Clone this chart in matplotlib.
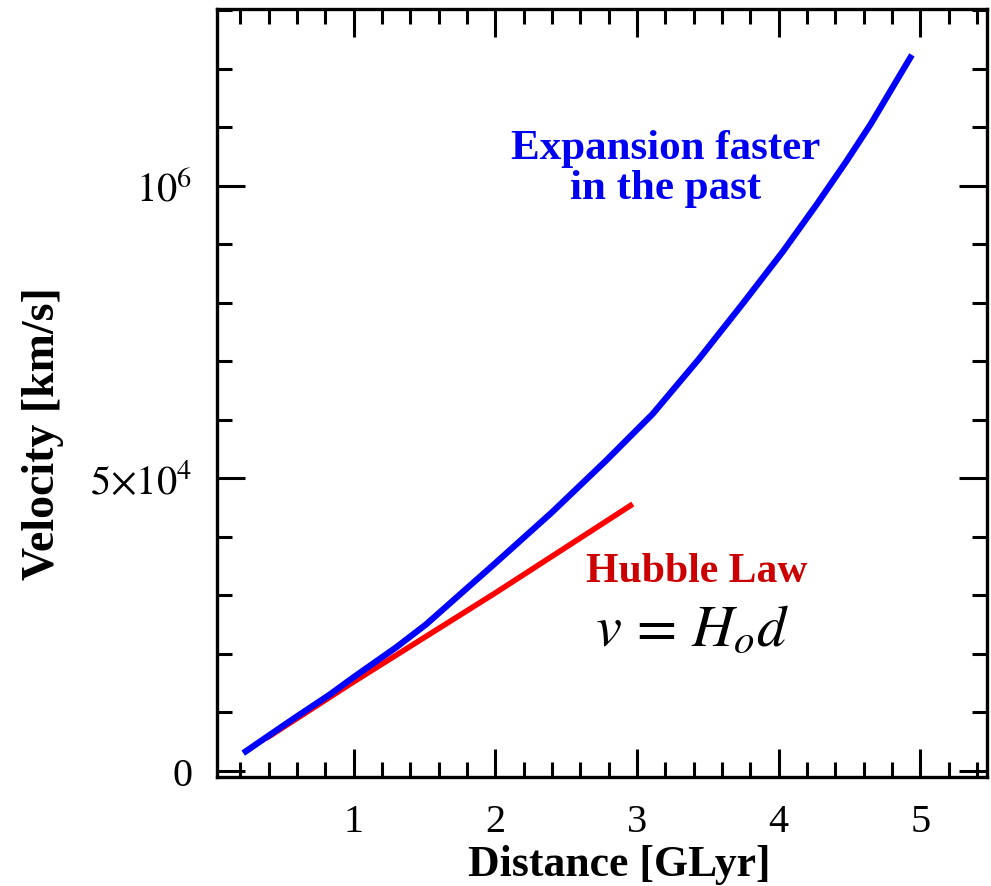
import matplotlib
matplotlib.use("Agg")
import matplotlib.pyplot as plt
from matplotlib.ticker import FixedLocator, MultipleLocator, FixedFormatter

# ---- data ----
blue_d = [0.22, 0.40, 0.60, 0.83, 1.00, 1.30, 1.51, 2.00, 2.40, 2.78, 3.11,
          3.44, 3.75, 4.03, 4.27, 4.48, 4.65, 4.94]
blue_v = [3000, 6000, 9300, 13000, 16000, 21100, 25000, 35500, 44200, 53000, 61000,
          70500, 80000, 88800, 96900, 104300, 110600, 122400]

red_d = [0.38, 1.0, 2.0, 2.97]
red_v = [5500, 15200, 30400, 45600]

x_major = [1, 2, 3, 4, 5]
x_labels = ["1", "2", "3", "4", "5"]
y_major = [0, 50000, 100000]
y_labels = ["0", r"$5{\times}10^4$", r"$10^6$"]

plt.rcParams['font.family'] = ['Liberation Serif', 'DejaVu Serif']
plt.rcParams['mathtext.fontset'] = 'stix'

fig = plt.figure(figsize=(9.91, 8.87), dpi=100)
ax = fig.add_axes([217/991, 1 - 778/887, (987-217)/991, (778-10)/887])

ax.plot(blue_d, blue_v, color='#0000ff', lw=4.5, solid_capstyle='butt',
        solid_joinstyle='round', zorder=3)
ax.plot(red_d, red_v, color='#ff0000', lw=4.0, solid_capstyle='butt', zorder=2)

ax.set_xlim(0.035, 5.47)
ax.set_ylim(-1080, 130250)

ax.xaxis.set_major_locator(FixedLocator(x_major))
ax.xaxis.set_major_formatter(FixedFormatter(x_labels))
ax.xaxis.set_minor_locator(MultipleLocator(0.2))
ax.yaxis.set_major_locator(FixedLocator(y_major))
ax.yaxis.set_major_formatter(FixedFormatter(y_labels))
ax.yaxis.set_minor_locator(MultipleLocator(10000))

for s in ax.spines.values():
    s.set_linewidth(2.4)

ax.tick_params(which='both', direction='in', top=True, right=True, width=2.2, colors='black')
ax.tick_params(which='major', length=20)
ax.tick_params(which='minor', length=11)
ax.tick_params(axis='x', which='major', pad=19, labelsize=29)
ax.tick_params(axis='y', which='major', pad=18, labelsize=29)

ax.set_xlabel("Distance [GLyr]", fontsize=31.5, fontweight='bold')
ax.xaxis.set_label_coords(0.522, -0.113)
ax.xaxis.label.set_va('center')
ax.set_ylabel("Velocity [km/s]", fontsize=33, fontweight='bold')
ax.yaxis.set_label_coords(-0.226, 0.449)
ax.yaxis.label.set_va('center')

ax.text(0.582, 0.793, "Expansion faster\nin the past", transform=ax.transAxes,
        ha='center', va='center', color='#0000f0', fontsize=31, fontweight='bold',
        linespacing=1.05)
ax.text(0.623, 0.268, "Hubble Law", transform=ax.transAxes, ha='center', va='center',
        color='#cc0000', fontsize=30, fontweight='bold')
ax.text(0.618, 0.190, r"$v\,=\,H_{o}d$", transform=ax.transAxes, ha='center',
        va='center', color='black', fontsize=42)

fig.savefig("out.png", dpi=100)
